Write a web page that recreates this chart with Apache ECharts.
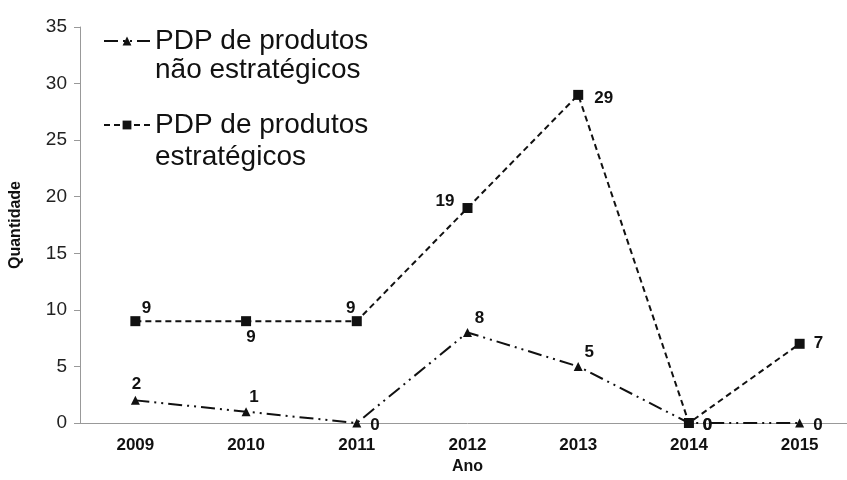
<!DOCTYPE html>
<html>
<head>
<meta charset="utf-8">
<script src="https://cdn.jsdelivr.net/npm/echarts@6/dist/echarts.min.js"></script>
<style>
  html, body { margin: 0; padding: 0; background: #fff; overflow: hidden; }
  #chart { width: 860px; height: 480px; }
</style>
</head>
<body>
<div id="chart"></div>
<script>
// Years on the horizontal axis
const years = ['2009', '2010', '2011', '2012', '2013', '2014', '2015'];
// Number of PDP per year
const naoEstrategicos = [2, 1, 0, 8, 5, 0, 0];
const estrategicos = [9, 9, 9, 19, 29, 0, 7];
// Series names (legend text, first and second line)
const nameNao = 'PDP de produtos';
const nameNao2 = 'não estratégicos';
const nameEst = 'PDP de produtos ';
const nameEst2 = 'estratégicos';

const BOLD_FONT = 'Liberation Sans, Arial, sans-serif';
const labelFont = { fontFamily: BOLD_FONT, fontWeight: 'bold', fontSize: 17, color: '#111' };

// Value-label placement per point
const posNao = ['top', 'top', 'right', 'top', 'top', 'right', 'right'];
const offNao = [[1, 0], [8, 2], [6, 2], [12, 2], [11, 2], [6, 2], [6, 2]];
const posEst = ['top', 'bottom', 'top', 'left', 'right', 'right', 'right'];
const offEst = [[11, 4], [5, 0], [-6, 4], [-5, -7], [8, 3], [6, 2], [6, 0]];

function buildData(values, positions, offsets) {
  return values.map((v, i) => ({
    value: v,
    label: { position: positions[i], offset: offsets[i] }
  }));
}

const LEGEND_FONT = '28px "Liberation Sans", Arial, sans-serif';

const chart = echarts.init(document.getElementById('chart'));
chart.setOption({
  animation: false,
  backgroundColor: '#fff',
  grid: { left: 77, right: 5, top: 27, bottom: 57 },
  legend: {
    left: 98,
    top: 22,
    orient: 'vertical',
    itemGap: 56,
    itemWidth: 46,
    itemHeight: 11,
    textStyle: { fontFamily: 'Liberation Sans, Arial, sans-serif', fontSize: 28, color: '#111' },
    data: [nameNao, nameEst]
  },
  graphic: [
    { type: 'text', left: 155, top: 56, style: { text: nameNao2, font: LEGEND_FONT, fill: '#111' } },
    { type: 'text', left: 155, top: 143, style: { text: nameEst2, font: LEGEND_FONT, fill: '#111' } }
  ],
  xAxis: {
    type: 'category',
    data: years,
    name: 'Ano',
    nameLocation: 'middle',
    nameGap: 36,
    nameTextStyle: { fontFamily: BOLD_FONT, fontWeight: 'bold', fontSize: 16, color: '#111' },
    axisLine: { lineStyle: { color: '#999', width: 1 } },
    axisTick: { show: false },
    axisLabel: { margin: 14, fontFamily: BOLD_FONT, fontWeight: 'bold', fontSize: 17, color: '#111' },
    splitLine: { show: false }
  },
  yAxis: {
    type: 'value',
    min: 0,
    max: 35,
    interval: 5,
    name: 'Quantidade',
    nameLocation: 'middle',
    nameGap: 56,
    nameRotate: 90,
    nameTextStyle: { fontFamily: BOLD_FONT, fontWeight: 'bold', fontSize: 16, color: '#111' },
    axisLine: { show: true, lineStyle: { color: '#999', width: 1 } },
    axisTick: { show: true, length: 6, lineStyle: { color: '#999' } },
    axisLabel: { margin: 13, fontFamily: 'Liberation Sans, Arial, sans-serif', fontSize: 19, color: '#222' },
    splitLine: { show: false }
  },
  series: [
    {
      name: nameNao,
      type: 'line',
      data: buildData(naoEstrategicos, posNao, offNao),
      symbol: 'triangle',
      symbolSize: 9,
      itemStyle: { color: '#111' },
      lineStyle: { color: '#111', width: 2, type: [14, 5, 2, 5, 2, 5] },
      label: Object.assign({ show: true, distance: 3 }, labelFont),
      z: 3
    },
    {
      name: nameEst,
      type: 'line',
      data: buildData(estrategicos, posEst, offEst),
      symbol: 'rect',
      symbolSize: 10,
      itemStyle: { color: '#111' },
      lineStyle: { color: '#111', width: 2, type: [6, 4] },
      label: Object.assign({ show: true, distance: 3 }, labelFont),
      z: 4
    }
  ]
});
</script>
</body>
</html>
